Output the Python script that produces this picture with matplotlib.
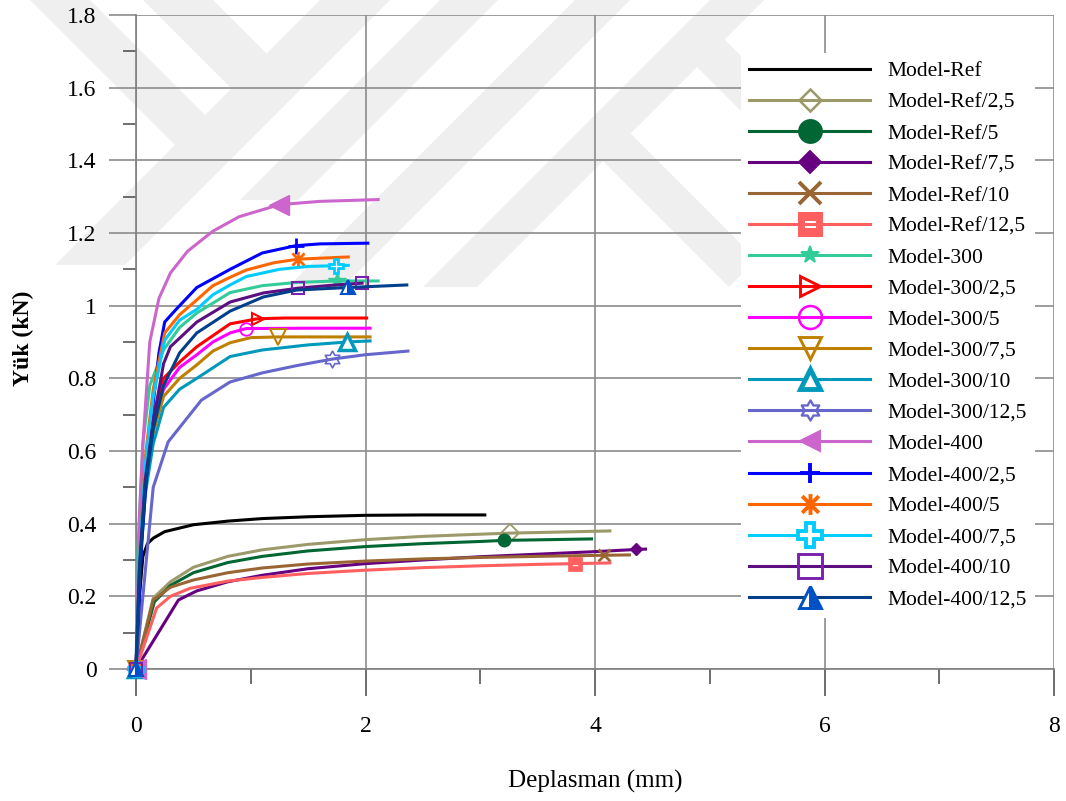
import numpy as np
import matplotlib
matplotlib.use("Agg")
from matplotlib import pyplot as plt
from matplotlib.path import Path
from matplotlib.patches import Polygon

plt.rcParams['font.family'] = ['Liberation Serif', 'DejaVu Serif']

## DATA
x_ref = [0, 0.03, 0.06, 0.1, 0.15, 0.25, 0.5, 0.8, 1.1, 1.5, 2.0, 2.5, 3.04]
y_ref = [0, 0.2, 0.31, 0.345, 0.36, 0.378, 0.397, 0.407, 0.414, 0.419, 0.423, 0.424, 0.424]

x_ref25 = [0, 0.15, 0.3, 0.5, 0.8, 1.1, 1.5, 2.0, 2.5, 3.0, 3.26, 3.7, 4.13]
y_ref25 = [0, 0.195, 0.24, 0.28, 0.31, 0.328, 0.343, 0.356, 0.365, 0.371, 0.374, 0.377, 0.38]

x_ref5 = [0, 0.16, 0.3, 0.5, 0.8, 1.1, 1.5, 2.0, 2.5, 3.0, 3.21, 3.6, 3.97]
y_ref5 = [0, 0.185, 0.23, 0.265, 0.293, 0.31, 0.325, 0.337, 0.345, 0.351, 0.354, 0.356, 0.358]

x_ref75 = [0, 0.37, 0.53, 0.8, 1.1, 1.5, 2.0, 2.5, 3.0, 3.5, 4.0, 4.36, 4.44]
y_ref75 = [0, 0.19, 0.215, 0.24, 0.258, 0.276, 0.29, 0.3, 0.309, 0.316, 0.323, 0.329, 0.33]

x_ref10 = [0, 0.15, 0.3, 0.5, 0.8, 1.1, 1.5, 2.0, 2.5, 3.0, 3.5, 4.08, 4.3]
y_ref10 = [0, 0.19, 0.225, 0.245, 0.265, 0.278, 0.289, 0.297, 0.303, 0.307, 0.31, 0.313, 0.314]

x_ref125 = [0, 0.18, 0.3, 0.47, 0.8, 1.1, 1.5, 2.0, 2.5, 3.0, 3.5, 3.83, 4.13]
y_ref125 = [0, 0.168, 0.2, 0.222, 0.242, 0.252, 0.263, 0.272, 0.279, 0.284, 0.288, 0.29, 0.292]

x_300 = [0, 0.02, 0.06, 0.12, 0.24, 0.38, 0.53, 0.82, 1.1, 1.4, 1.75, 2.11]
y_300 = [0, 0.35, 0.62, 0.78, 0.878, 0.94, 0.98, 1.036, 1.055, 1.064, 1.068, 1.068]

x_30025 = [0, 0.03, 0.08, 0.15, 0.24, 0.38, 0.53, 0.82, 1.06, 1.3, 2.01]
y_30025 = [0, 0.3, 0.55, 0.7, 0.8, 0.845, 0.887, 0.95, 0.964, 0.966, 0.966]

x_3005 = [0, 0.03, 0.08, 0.15, 0.24, 0.38, 0.53, 0.67, 0.82, 0.96, 1.5, 2.04]
y_3005 = [0, 0.28, 0.52, 0.67, 0.77, 0.83, 0.865, 0.9, 0.925, 0.937, 0.938, 0.938]

x_30075 = [0, 0.03, 0.08, 0.15, 0.24, 0.38, 0.53, 0.67, 0.82, 1.0, 1.24, 1.6, 2.04]
y_30075 = [0, 0.27, 0.5, 0.65, 0.75, 0.8, 0.837, 0.875, 0.898, 0.912, 0.914, 0.914, 0.914]

x_30010 = [0, 0.03, 0.08, 0.15, 0.24, 0.38, 0.53, 0.82, 1.1, 1.5, 1.84, 2.04]
y_30010 = [0, 0.25, 0.48, 0.62, 0.72, 0.77, 0.8, 0.86, 0.878, 0.892, 0.9, 0.903]

x_300125 = [0, 0.15, 0.28, 0.57, 0.82, 1.1, 1.4, 1.71, 2.0, 2.37]
y_300125 = [0, 0.5, 0.625, 0.74, 0.79, 0.815, 0.835, 0.853, 0.865, 0.875]

x_400 = [0, 0.03, 0.06, 0.12, 0.2, 0.3, 0.45, 0.67, 0.9, 1.25, 1.6, 2.11]
y_400 = [0, 0.42, 0.62, 0.9, 1.02, 1.09, 1.15, 1.205, 1.245, 1.278, 1.287, 1.292]

x_40025 = [0, 0.05, 0.12, 0.2, 0.25, 0.35, 0.53, 0.82, 1.1, 1.39, 1.6, 2.02]
y_40025 = [0, 0.35, 0.65, 0.87, 0.955, 0.99, 1.05, 1.1, 1.145, 1.165, 1.17, 1.172]

x_4005 = [0, 0.03, 0.08, 0.15, 0.25, 0.38, 0.53, 0.67, 0.82, 0.96, 1.2, 1.41, 1.85]
y_4005 = [0, 0.3, 0.58, 0.77, 0.925, 0.975, 1.016, 1.055, 1.078, 1.098, 1.118, 1.128, 1.134]

x_40075 = [0, 0.03, 0.08, 0.15, 0.25, 0.38, 0.53, 0.67, 0.82, 0.96, 1.25, 1.5, 1.74, 1.85]
y_40075 = [0, 0.3, 0.56, 0.75, 0.905, 0.96, 0.99, 1.03, 1.057, 1.08, 1.1, 1.108, 1.11, 1.111]

x_40010 = [0, 0.03, 0.08, 0.15, 0.24, 0.3, 0.53, 0.82, 1.11, 1.41, 1.7, 1.97]
y_40010 = [0, 0.28, 0.52, 0.68, 0.84, 0.887, 0.955, 1.01, 1.035, 1.048, 1.056, 1.062]

x_400125 = [0, 0.03, 0.08, 0.15, 0.24, 0.38, 0.53, 0.82, 1.11, 1.4, 1.85, 2.36]
y_400125 = [0, 0.27, 0.5, 0.66, 0.78, 0.87, 0.925, 0.985, 1.024, 1.043, 1.05, 1.057]

labels = ["Model-Ref", "Model-Ref/2,5", "Model-Ref/5", "Model-Ref/7,5", "Model-Ref/10",
          "Model-Ref/12,5", "Model-300", "Model-300/2,5", "Model-300/5", "Model-300/7,5",
          "Model-300/10", "Model-300/12,5", "Model-400", "Model-400/2,5", "Model-400/5",
          "Model-400/7,5", "Model-400/10", "Model-400/12,5"]
xs = [x_ref, x_ref25, x_ref5, x_ref75, x_ref10, x_ref125, x_300, x_30025, x_3005, x_30075,
      x_30010, x_300125, x_400, x_40025, x_4005, x_40075, x_40010, x_400125]
ys = [y_ref, y_ref25, y_ref5, y_ref75, y_ref10, y_ref125, y_300, y_30025, y_3005, y_30075,
      y_30010, y_300125, y_400, y_40025, y_4005, y_40075, y_40010, y_400125]
# which points carry a marker
mark_at = [[], [0, 10], [0, 10], [0, 11], [0, 11], [0, 11], [0, 10], [0, 8], [0, 9], [0, 10],
           [0, 10], [0, 7], [0, 9], [0, 9], [0, 11], [0, 12], [0, 9, 11], [0, 10]]
## END DATA


## custom marker shapes
def square_with_slot():
    outer = [(-1, -1), (1, -1), (1, 1), (-1, 1), (-1, -1)]
    inner = [(-0.5, -0.3), (-0.5, 0.3), (0.5, 0.3), (0.5, -0.3), (-0.5, -0.3)]
    codes = [Path.MOVETO] + [Path.LINETO] * 3 + [Path.CLOSEPOLY]
    return Path(outer + inner, codes + codes)

def hexagram():
    pts = []
    for k in range(12):
        r = 1.0 if k % 2 == 0 else 1 / np.sqrt(3)
        a = np.pi / 2 + k * np.pi / 6
        pts.append((r * np.cos(a), r * np.sin(a)))
    pts.append(pts[0])
    codes = [Path.MOVETO] + [Path.LINETO] * 11 + [Path.CLOSEPOLY]
    return Path(pts, codes)

def excel_star():
    v = [(0, -1), (0, 1), (-0.8, -0.8), (0.8, 0.8), (-0.8, 0.8), (0.8, -0.8)]
    codes = [Path.MOVETO, Path.LINETO] * 3
    return Path(v, codes)


W = 'white'
# ms = marker size on the curves, lms = marker size in the legend
styles = [
    dict(color='black', marker=None),
    dict(color='#9C9A6A', marker='D', ms=9.5, lms=11.2, mfc='none', mew=1.3),
    dict(color='#006633', marker='o', ms=9, lms=16.5, mfc='#006633', mew=1),
    dict(color='#660080', marker='D', ms=6.5, lms=11.2, mfc='#660080', mew=1),
    dict(color='#996633', marker='x', ms=9, lms=16, mew=2),
    dict(color='#FF5F5F', marker=square_with_slot(), ms=9.5, lms=17, mfc='#FF5F5F', mew=0.5),
    dict(color='#33CC99', marker='*', ms=13, lms=13, mfc='#33CC99', mew=1),
    dict(color='#FF0000', marker='>', ms=9, lms=14.5, mfc='none', mew=1.5),
    dict(color='#FF00FF', marker='o', ms=9, lms=16.5, mfc='none', mew=1.3),
    dict(color='#BF8000', marker='v', ms=12, lms=16, mfc='none', mew=1.5),
    dict(color='#0099BB', marker='^', ms=11, lms=14.5, mfc=W, mew=2.5),
    dict(color='#6666CC', marker=hexagram(), ms=12, lms=14.5, mfc='none', mew=1.2),
    dict(color='#CC66CC', marker='<', ms=14, lms=14.5, mfc='#CC66CC', mew=1),
    dict(color='#0000FF', marker='+', ms=11, lms=15, mew=2),
    dict(color='#FF6600', marker=excel_star(), ms=11, lms=15, mew=2),
    dict(color='#00CCFF', marker='P', ms=10, lms=17, mfc=W, mew=2),
    dict(color='#5B0F80', marker='s', ms=8, lms=17, mfc='none', mec='#7A1FB0', mew=1.5),
    dict(color='#00408A', marker='^', ms=10, lms=16, mfc='#0050C8', mec='#0050C8', mfcalt=W,
         fillstyle='right', mew=1.5),
]

fig = plt.figure(figsize=(10.66, 8.01), dpi=100)

## light grey watermark behind the chart (pixel coords, y from top)
def px(pts):
    return [(x / 1066, 1 - y / 801) for x, y in pts]

def slash(s0, s1, y0, y1):
    return [(s0 - y0, y0), (s1 - y0, y0), (s1 - y1, y1), (s0 - y1, y1)]

def back(d0, d1, s_start, s_end):
    return [((s_start + d0) / 2, (s_start - d0) / 2), ((s_start + d1) / 2, (s_start - d1) / 2),
            ((s_end + d1) / 2, (s_end - d1) / 2), ((s_end + d0) / 2, (s_end - d0) / 2)]

wm = [slash(320, 390, 0, 265), slash(440, 498, 0, 200), slash(575, 630, 0, 287),
      slash(710, 764, 0, 287), back(30, 90, 30, 340), back(143, 213, 143, 340),
      back(630, 685, 750, 900), back(442, 497, 750, 1016)]
for poly in wm:
    fig.patches.append(Polygon(px(poly), closed=True, transform=fig.transFigure,
                               facecolor='#EFEFEF', edgecolor='none', zorder=-5))

ax = fig.add_axes([136 / 1066, 1 - 669 / 801, 918 / 1066, 654 / 801])
ax.set_facecolor('none')
ax.set_zorder(2)

for xv, yv, lab, st, mk in zip(xs, ys, labels, styles, mark_at):
    st = dict(st)
    color = st.pop('color')
    marker = st.pop('marker')
    kw = dict(color=color, lw=2.2, label=lab, clip_on=False, zorder=3)
    if marker is not None:
        kw.update(marker=marker, markevery=mk)
        kw['markersize'] = st.pop('ms')
        kw['markeredgewidth'] = st.pop('mew')
        kw['markeredgecolor'] = st.pop('mec', color)
        if 'mfc' in st:
            kw['markerfacecolor'] = st.pop('mfc')
        if 'mfcalt' in st:
            kw['markerfacecoloralt'] = st.pop('mfcalt')
        if 'fillstyle' in st:
            kw['fillstyle'] = st.pop('fillstyle')
    ax.plot(xv, yv, **kw)

ax.set_xlim(0, 8)
ax.set_ylim(0, 1.8)
ax.set_xticks(np.arange(0, 9, 2))
ax.set_xticks(np.arange(1, 9, 2), minor=True)
ax.set_yticks(np.arange(0, 1.81, 0.2))
ax.set_yticks(np.arange(0.1, 1.8, 0.2), minor=True)
ax.set_yticklabels(['0', '0.2', '0.4', '0.6', '0.8', '1', '1.2', '1.4', '1.6', '1.8'])

grid_c = '#8C8C8C'
ax.grid(True, which='major', color=grid_c, lw=1.2, zorder=1)
ax.set_axisbelow(True)
for s in ['top', 'right']:
    ax.spines[s].set_visible(False)
for s in ['left', 'bottom']:
    ax.spines[s].set_color('#7F7F7F')
    ax.spines[s].set_linewidth(1.2)

ax.tick_params(axis='y', which='major', direction='out', length=19.5, width=1.2,
               color=grid_c, labelsize=17, pad=9)
ax.tick_params(axis='y', which='minor', direction='out', length=9.5, width=1.2, color='#555555')
ax.tick_params(axis='x', which='major', direction='out', length=19.5, width=1.2,
               color='#555555', labelsize=17, pad=14)
ax.tick_params(axis='x', which='minor', direction='out', length=10.5, width=1.2, color='#555555')

ax.set_xlabel('Deplasman (mm)', fontsize=18, labelpad=24)
fig.text(23 / 1066, 1 - 338 / 801, 'Yük (kN)', rotation=90, fontsize=17,
         fontweight='bold', ha='center', va='center')

leg = ax.legend(loc='upper left', bbox_to_anchor=(730 / 1066, 1 - 42 / 801),
                bbox_transform=fig.transFigure, fontsize=15.5, frameon=True,
                facecolor='white', edgecolor='none', framealpha=1, fancybox=False,
                handlelength=5.6, handletextpad=0.8, labelspacing=0.51,
                borderpad=0.4, numpoints=1)
leg.set_zorder(5)
for h, st in zip(leg.legend_handles, styles):
    if st['marker'] is not None:
        h.set_markersize(st['lms'])
        h.set_markeredgewidth(st['mew'] * 1.4)

fig.savefig('out.png', dpi=100)
